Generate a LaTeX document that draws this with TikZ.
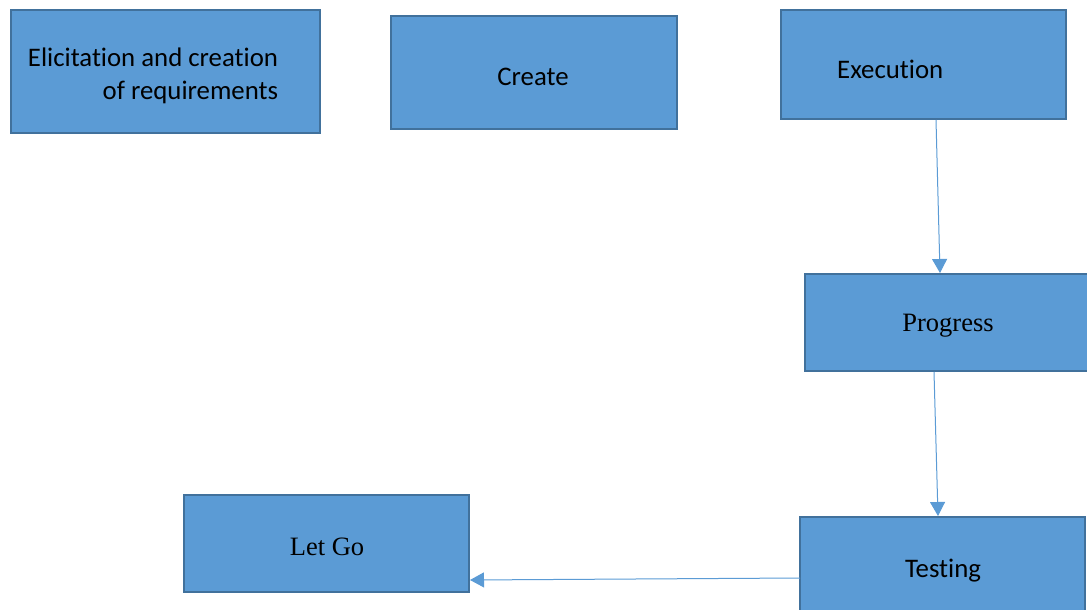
\documentclass[tikz,border=0pt]{standalone}
\usepackage{fontspec}
\setmainfont{Liberation Serif}
\newfontfamily\boxsans[Ligatures=NoCommon]{Carlito}
\usetikzlibrary{arrows.meta}
\definecolor{boxfill}{HTML}{5B9BD5}
\definecolor{boxedge}{HTML}{41719C}
\definecolor{flow}{HTML}{5B9BD5}
\begin{document}
\begin{tikzpicture}[x=1pt,y=-1pt,
  box/.style={rectangle, draw=boxedge, fill=boxfill, line width=2pt, inner sep=0pt},
  sanslabel/.style={font=\boxsans\fontsize{26.8}{33}\selectfont, text=black, inner sep=0pt},
  seriflabel/.style={font=\fontsize{26.5}{33}\selectfont, text=black, inner sep=0pt},
  flowarrow/.style={draw=flow, line width=1pt, -{Triangle[width=15pt,length=14pt]}}]
\useasboundingbox (0,0) rectangle (1087,610);
\clip (0,0) rectangle (1087,610);
% boxes
\node[box, minimum width=309pt, minimum height=123pt] (elic) at (165.5,71.5) {};
\node[box, minimum width=286pt, minimum height=113pt] (create) at (534,72.5) {};
\node[box, minimum width=285pt, minimum height=109pt] (exec) at (923.5,64.5) {};
\node[box, minimum width=290pt, minimum height=97pt] (prog) at (950,322.5) {};
\node[box, minimum width=285pt, minimum height=110pt] (test) at (942.5,572) {};
\node[box, minimum width=285pt, minimum height=97pt] (letgo) at (326.5,543.5) {};
% labels
\node[sanslabel, align=right] (elictext) at (153,75.5) {Elicitation and creation\\of requirements};
\node[sanslabel] (createtext) at (533,77) {Create};
\node[sanslabel, anchor=west] (exectext) at (837,69) {Execution};
\node[seriflabel] (progtext) at (948,325.5) {Progress};
\node[sanslabel] (testtext) at (943,570.5) {Testing};
\node[seriflabel] (letgotext) at (327,547) {Let Go};
% connectors
\coordinate (execout) at (936,120);
\coordinate (progin) at (940,273);
\coordinate (progout) at (934,372);
\coordinate (testin) at (938,516);
\coordinate (testout) at (800,578);
\coordinate (letgoin) at (470,580);
\draw[flowarrow] (execout) -- (progin);
\draw[flowarrow] (progout) -- (testin);
\draw[flowarrow] (testout) -- (letgoin);
\end{tikzpicture}
\end{document}
